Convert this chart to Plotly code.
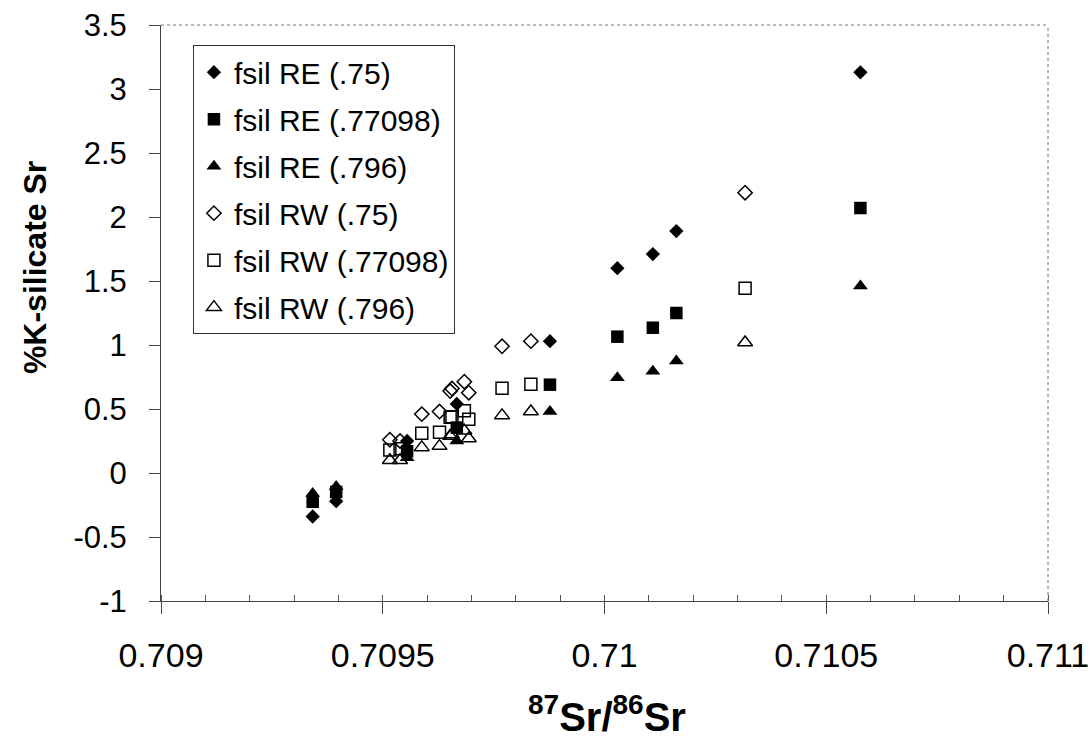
import plotly.graph_objects as go

# ---- data ----
re_x = [0.709342, 0.709395, 0.709555, 0.709667, 0.709877, 0.710029, 0.710109, 0.710162, 0.710577]
re_75 = [-0.34, -0.22, 0.25, 0.54, 1.03, 1.60, 1.71, 1.89, 3.13]
re_77098 = [-0.225, -0.148, 0.17, 0.355, 0.69, 1.065, 1.135, 1.25, 2.07]
re_796 = [-0.16, -0.105, 0.12, 0.25, 0.48, 0.745, 0.795, 0.875, 1.46]

rw_x = [0.709516, 0.709539, 0.709588, 0.709628, 0.709652, 0.709656, 0.709684, 0.709694, 0.709769, 0.709834, 0.710317]
rw_75 = [0.26, 0.25, 0.46, 0.48, 0.64, 0.66, 0.713, 0.627, 0.99, 1.03, 2.19]
rw_77098 = [0.18, 0.19, 0.31, 0.318, 0.435, 0.44, 0.487, 0.42, 0.662, 0.693, 1.443]
rw_796 = [0.10, 0.10, 0.20, 0.21, 0.29, 0.30, 0.33, 0.27, 0.45, 0.48, 1.02]

series_names = ["fsil RE (.75)", "fsil RE (.77098)", "fsil RE (.796)",
                "fsil RW (.75)", "fsil RW (.77098)", "fsil RW (.796)"]

x_tickvals = [0.709, 0.7095, 0.71, 0.7105, 0.711]
x_ticktext = ["0.709", "0.7095", "0.71", "0.7105", "0.711"]
y_tickvals = [-1, -0.5, 0, 0.5, 1, 1.5, 2, 2.5, 3, 3.5]
y_ticktext = ["-1", "-0.5", "0", "0.5", "1", "1.5", "2", "2.5", "3", "3.5"]

FONT = "Liberation Sans, Arial, sans-serif"

series = [
    (re_x, re_75, "diamond", 11),
    (re_x, re_77098, "square", 12.5),
    (re_x, re_796, "triangle-up", 13),
    (rw_x, rw_75, "diamond-open", 11),
    (rw_x, rw_77098, "square-open", 12),
    (rw_x, rw_796, "triangle-up-open", 13),
]

fig = go.Figure()
for i, ((xs, ys, sym, sz), name) in enumerate(zip(series, series_names)):
    is_open = sym.endswith("open")
    fig.add_trace(go.Scatter(
        x=xs, y=ys, mode="markers", name=name,
        legendgroup=f"g{i}",
        marker=dict(symbol=sym, size=sz, color="black",
                    line=dict(width=1.5 if is_open else 0, color="black")),
    ))

fig.update_layout(
    width=1091, height=743,
    margin=dict(l=161, r=43, t=25, b=142, autoexpand=False),
    paper_bgcolor="white", plot_bgcolor="white",
    font=dict(family=FONT, color="black"),
    showlegend=True,
    legend=dict(
        x=0.036, y=0.965, xanchor="left", yanchor="top",
        bgcolor="white", bordercolor="#333", borderwidth=1,
        font=dict(family=FONT, size=30, color="black"),
        traceorder="grouped", tracegroupgap=5,
        itemwidth=30,
    ),
    xaxis=dict(
        range=[0.709, 0.711], showgrid=False, zeroline=False, automargin=False,
        showline=True, linecolor="#444", linewidth=1,
        tickvals=x_tickvals, ticktext=x_ticktext,
        ticks="outside", ticklen=12, tickcolor="#444", tickwidth=1,
        tickfont=dict(family=FONT, size=34, color="black"),
        ticklabelstandoff=12,
        minor=dict(ticks="inside", dtick=0.0001, ticklen=6, tickcolor="#555", tickwidth=1, showgrid=False),
    ),
    yaxis=dict(
        range=[-1, 3.5], showgrid=False, zeroline=False, automargin=False,
        showline=True, linecolor="#444", linewidth=1,
        tickvals=y_tickvals, ticktext=y_ticktext,
        ticks="outside", ticklen=11, tickcolor="#444", tickwidth=1,
        tickfont=dict(family=FONT, size=31, color="black"),
        ticklabelstandoff=16,
    ),
    shapes=[
        dict(type="line", xref="paper", yref="paper", x0=0, x1=1, y0=1, y1=1,
             line=dict(color="#777", width=1, dash="dot")),
        dict(type="line", xref="paper", yref="paper", x0=1, x1=1, y0=0, y1=1,
             line=dict(color="#777", width=1, dash="dot")),
    ],
    annotations=[
        dict(text="<b>%K-silicate Sr</b>", xref="paper", yref="paper",
             x=-0.142, y=0.578, xanchor="center", yanchor="middle",
             textangle=-90, showarrow=False,
             font=dict(family=FONT, size=32, color="black")),
        dict(text="<b><sup>87</sup>Sr/<sup>86</sup>Sr</b>", xref="paper", yref="paper",
             x=0.503, y=-0.197, xanchor="center", yanchor="middle",
             showarrow=False,
             font=dict(family=FONT, size=40, color="black")),
    ],
)

fig.write_html("out.html")
